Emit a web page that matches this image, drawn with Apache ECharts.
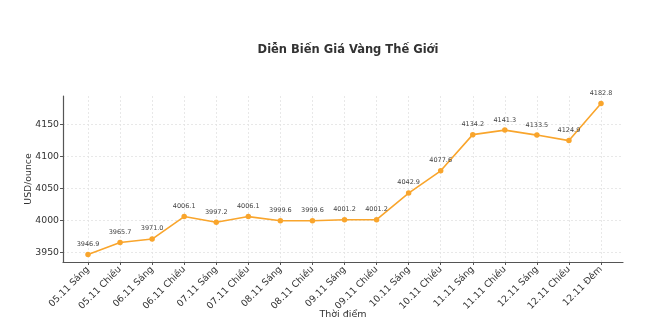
<!DOCTYPE html>
<html><head><meta charset="utf-8">
<script src="https://cdn.jsdelivr.net/npm/echarts@6/dist/echarts.min.js"></script>
<style>html,body{margin:0;padding:0;background:#fff}#c{width:660px;height:334px}</style>
</head><body><div id="c"></div>
<script>
const categories = ["05.11 Sáng","05.11 Chiều","06.11 Sáng","06.11 Chiều","07.11 Sáng","07.11 Chiều","08.11 Sáng","08.11 Chiều","09.11 Sáng","09.11 Chiều","10.11 Sáng","10.11 Chiều","11.11 Sáng","11.11 Chiều","12.11 Sáng","12.11 Chiều","12.11 Đêm"];
const prices = [3946.9,3965.7,3971.0,4006.1,3997.2,4006.1,3999.6,3999.6,4001.2,4001.2,4042.9,4077.6,4134.2,4141.3,4133.5,4124.9,4182.8];
const yTicks = [3950,4000,4050,4100,4150];
const yMin = 3935.1, yMax = 4194.6;
const font = "DejaVu Sans";
const chart = echarts.init(document.getElementById('c'), null, {renderer:'canvas'});
const gridLine = {show:true, lineStyle:{color:'#e3e3e3', type:[2,2], width:0.8}};
chart.setOption({
  animation:false,
  backgroundColor:'#fff',
  title:{text:'Diễn Biến Giá Vàng Thế Giới', left:343, top:39, textAlign:'center',
    textStyle:{fontFamily:font, fontSize:11.5, fontWeight:'bold', color:'#333'}},
  grid:[
    {left:63, right:37, top:96, bottom:72},
    {left:88, right:59, top:96, bottom:72}
  ],
  xAxis:[
    {gridIndex:0, type:'value', min:0, max:1, axisLine:{show:true, lineStyle:{color:'#555', width:1.2}},
     axisTick:{show:false}, axisLabel:{show:false}, splitLine:{show:false},
     name:'Thời điểm', nameLocation:'middle', nameGap:48, nameMoveOverlap:false,
     nameTextStyle:{fontFamily:font, fontSize:9.5, color:'#333'}},
    {gridIndex:1, type:'category', data:categories, boundaryGap:false,
     axisLine:{show:false},
     axisTick:{show:true, inside:false, length:3, lineStyle:{color:'#555'}},
     axisLabel:{rotate:45, fontFamily:font, fontSize:9.3, color:'#333', margin:6, interval:0},
     splitLine:gridLine}
  ],
  yAxis:[
    {gridIndex:0, type:'value', min:yMin, max:yMax,
     axisLine:{show:true, lineStyle:{color:'#555', width:1.2}},
     axisTick:{show:true, length:3, customValues:yTicks, lineStyle:{color:'#555'}},
     axisLabel:{customValues:yTicks, formatter:v=>String(Math.round(v)), fontFamily:font, fontSize:9.3, color:'#333', margin:4},
     splitLine:gridLine,
     name:'USD/ounce', nameLocation:'middle', nameGap:30, nameRotate:90, nameMoveOverlap:false,
     nameTextStyle:{fontFamily:font, fontSize:9.3, color:'#333'}},
    {gridIndex:1, type:'value', min:yMin, max:yMax, show:false, splitLine:{show:false}}
  ],
  series:[{
    type:'line', xAxisIndex:1, yAxisIndex:1, data:prices,
    symbol:'circle', symbolSize:5.5,
    lineStyle:{color:'#f9a52c', width:1.6},
    itemStyle:{color:'#f9a52c'},
    label:{show:true, position:'top', distance:4, fontFamily:font, fontSize:6.5, color:'#444',
      formatter:p=>p.value.toFixed(1)}
  }]
});
</script></body></html>
